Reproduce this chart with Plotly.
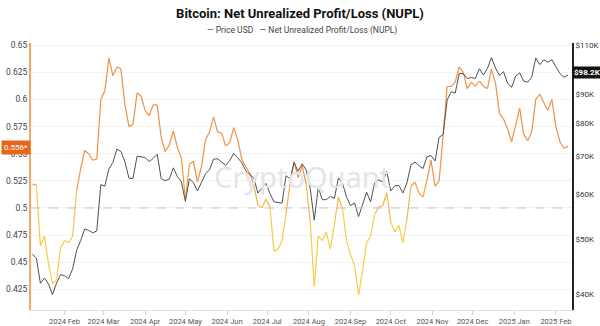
import math
import plotly.graph_objects as go
import pandas as pd

# --- data (3-day sampling, from 2024-01-08) ---
start_date = "2024-01-08"
price_k = [47.0, 46.3, 41.8, 42.7, 41.7, 39.9, 41.8, 43.3, 43.1, 42.6,
           44.3, 47.8, 49.7, 52.1, 51.8, 51.3, 51.7, 62.4, 62.0, 66.5,
           68.3, 72.1, 71.4, 68.4, 64.0, 64.0, 70.0, 69.9, 69.7, 68.5,
           69.4, 70.6, 63.9, 63.4, 63.8, 66.8, 64.5, 63.1, 58.3, 63.9,
           62.9, 60.8, 62.9, 65.2, 66.3, 69.2, 69.3, 68.3, 67.5, 68.8,
           70.8, 69.6, 68.2, 66.0, 65.1, 64.1, 60.3, 61.6, 62.7, 60.2,
           58.2, 58.0, 57.9, 64.7, 63.9, 68.2, 65.9, 67.9, 66.2, 61.4,
           54.0, 61.7, 58.7, 58.7, 59.5, 59.0, 64.1, 62.8, 59.4, 57.3,
           57.9, 54.8, 57.6, 60.5, 58.2, 62.9, 63.6, 63.1, 65.8, 60.8,
           62.1, 62.2, 60.3, 62.8, 67.6, 68.4, 67.4, 66.6, 69.9, 70.2,
           68.7, 75.6, 76.5, 88.0, 91.0, 90.5, 98.0, 97.9, 96.0, 96.4,
           96.0, 99.9, 97.4, 100.0, 104.5, 100.2, 97.2, 98.7, 94.2, 92.6,
           96.9, 98.3, 95.0, 94.6, 96.5, 104.4, 101.6, 103.6, 102.6, 103.7,
           100.7, 98.0, 96.5, 97.4]
nupl = [0.522, 0.521, 0.465, 0.474, 0.449, 0.430, 0.434, 0.463, 0.470, 0.468,
        0.474, 0.516, 0.536, 0.553, 0.550, 0.544, 0.545, 0.600, 0.608, 0.638,
        0.622, 0.630, 0.628, 0.595, 0.575, 0.577, 0.606, 0.603, 0.590, 0.585,
        0.595, 0.595, 0.565, 0.552, 0.558, 0.571, 0.556, 0.546, 0.508, 0.540,
        0.543, 0.524, 0.538, 0.563, 0.570, 0.584, 0.570, 0.569, 0.557, 0.560,
        0.574, 0.563, 0.545, 0.538, 0.532, 0.521, 0.503, 0.500, 0.508, 0.501,
        0.460, 0.462, 0.470, 0.495, 0.523, 0.543, 0.528, 0.539, 0.522, 0.487,
        0.428, 0.474, 0.470, 0.478, 0.462, 0.485, 0.510, 0.500, 0.470, 0.457,
        0.447, 0.420, 0.442, 0.468, 0.474, 0.494, 0.501, 0.502, 0.514, 0.487,
        0.478, 0.484, 0.468, 0.489, 0.520, 0.524, 0.514, 0.510, 0.526, 0.544,
        0.520, 0.525, 0.567, 0.612, 0.612, 0.616, 0.630, 0.625, 0.610, 0.616,
        0.612, 0.617, 0.612, 0.610, 0.628, 0.615, 0.587, 0.582, 0.573, 0.561,
        0.576, 0.592, 0.568, 0.562, 0.570, 0.600, 0.605, 0.597, 0.590, 0.600,
        0.575, 0.561, 0.555, 0.557]
tick_dates = ["2024-02-01", "2024-03-01", "2024-04-01", "2024-05-01", "2024-06-01",
              "2024-07-01", "2024-08-01", "2024-09-01", "2024-10-01", "2024-11-01",
              "2024-12-01", "2025-01-01", "2025-02-01"]
tick_labels = ["2024 Feb", "2024 Mar", "2024 Apr", "2024 May", "2024 Jun", "2024 Jul",
               "2024 Aug", "2024 Sep", "2024 Oct", "2024 Nov", "2024 Dec", "2025 Jan",
               "2025 Feb"]
left_ticks = [0.425, 0.45, 0.475, 0.5, 0.525, 0.55, 0.575, 0.6, 0.625, 0.65]
right_ticks = [40000, 50000, 60000, 70000, 80000, 90000, 110000]
right_labels = ["$40K", "$50K", "$60K", "$70K", "$80K", "$90K", "$110K"]
last_nupl_label = "0.556*"
last_price_label = "$98.2K"
last_nupl = 0.556
last_price = 98200

dates = pd.date_range(start_date, periods=len(price_k), freq="3D")
price = [p * 1000 for p in price_k]

YELLOW = (246, 204, 70)
ORANGE = (240, 145, 70)
FONT = "Roboto, sans-serif"


def seg_color(v):
    t = (v - 0.49) / (0.53 - 0.49)
    t = max(0.0, min(1.0, t))
    c = [round(YELLOW[i] + (ORANGE[i] - YELLOW[i]) * t) for i in range(3)]
    return f"rgb({c[0]},{c[1]},{c[2]})"


fig = go.Figure()

for i in range(len(nupl) - 1):
    vmid = (nupl[i] + nupl[i + 1]) / 2
    fig.add_trace(go.Scatter(
        x=[dates[i], dates[i + 1]], y=[nupl[i], nupl[i + 1]],
        mode="lines", line=dict(color=seg_color(vmid), width=1.2),
        showlegend=False, hoverinfo="skip", yaxis="y"))

fig.add_trace(go.Scatter(
    x=dates, y=price, mode="lines", line=dict(color="#505050", width=1),
    name="Price USD", showlegend=False, yaxis="y2"))

fig.update_layout(
    width=600, height=326,
    margin=dict(l=31, r=28, t=43, b=16, autoexpand=False),
    paper_bgcolor="white", plot_bgcolor="white",
    font=dict(family=FONT, size=8, color="#444"),
    title=dict(text="<b>Bitcoin: Net Unrealized Profit/Loss (NUPL)</b>",
               x=0.5, xanchor="center", yref="container", y=1 - 13 / 326,
               yanchor="middle", font=dict(size=13, color="#111", family=FONT)),
    xaxis=dict(type="date", range=["2024-01-07", "2025-02-13"],
               tickvals=tick_dates, ticktext=tick_labels,
               ticks="outside", ticklen=4, tickcolor="#d0d0d0",
               showline=True, linecolor="#e2e2e2", linewidth=1,
               showgrid=False, zeroline=False, automargin=False,
               tickfont=dict(size=7.5, color="#555", family=FONT)),
    yaxis=dict(range=[0.406, 0.652], tickvals=left_ticks,
               ticktext=[f"{t:g}" for t in left_ticks],
               showline=True, linecolor="#f4a868", linewidth=2,
               showgrid=True, gridcolor="#f3f3f3", zeroline=False,
               automargin=False, tickfont=dict(size=8.5, color="#444", family=FONT)),
    yaxis2=dict(type="log", overlaying="y", side="right",
                range=[4.574, 5.045], tickvals=right_ticks, ticktext=right_labels,
                showline=True, linecolor="#222", linewidth=2,
                showgrid=False, zeroline=False, automargin=False,
                tickfont=dict(size=8, color="#333", family=FONT)),
    showlegend=False,
)

fig.add_shape(type="line", xref="paper", x0=0, x1=1, yref="y", y0=0.5, y1=0.5,
              line=dict(color="#c4c4c4", width=1, dash="dash"))

# legend as text
fig.add_annotation(
    xref="paper", yref="paper", x=0.5, y=1 + (43 - 31) / 267, xanchor="center",
    yanchor="middle", showarrow=False,
    text="<span style='color:#555'>—</span> Price USD &nbsp;&nbsp;"
         "<span style='color:#4a3c9a'>—</span> Net Unrealized Profit/Loss (NUPL)",
    font=dict(size=8.5, color="#444", family=FONT))

# watermark
fig.add_annotation(xref="paper", yref="paper", x=0.5, y=0.5, showarrow=False,
                   text="CryptoQuant", font=dict(size=29, color="#e4e4ea",
                                                 family="Noto Sans, sans-serif"))

# badges
fig.add_annotation(xref="paper", x=0, xanchor="right", yref="y", y=last_nupl,
                   yanchor="middle", showarrow=False, text=last_nupl_label,
                   bgcolor="#e8661a", font=dict(color="white", size=8, family=FONT),
                   borderpad=2)
fig.add_annotation(xref="paper", x=1, xanchor="left", xshift=0, yref="y2",
                   y=math.log10(last_price), yanchor="middle", showarrow=False,
                   text="<b>" + last_price_label + "</b>",
                   bgcolor="#111", font=dict(color="white", size=8, family=FONT),
                   borderpad=1)

fig.write_html("out.html")
